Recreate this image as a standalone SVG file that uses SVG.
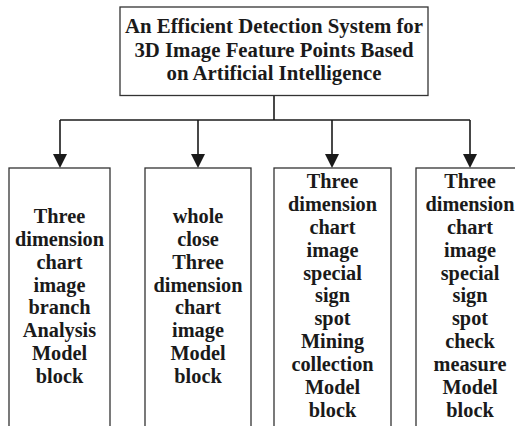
<svg xmlns="http://www.w3.org/2000/svg" width="515" height="426" viewBox="0 0 515 426">
<style>
.box{fill:#fff;stroke:#333;stroke-width:1.3}
.t{font-family:"Liberation Serif","Times New Roman",serif;font-weight:bold;font-size:20.3px;fill:#1a1a1a;text-anchor:middle}
.h{font-size:20.8px}
.c{fill:none;stroke:#1a1a1a;stroke-width:1.6}
.a{fill:#1a1a1a}
</style>
<rect width="515" height="426" fill="#fff"/>
<g id="connectors">
<path class="c" d="M274,96 V120"/>
<path class="c" d="M60,120 H470"/>
<path d="M60,120 V154" class="c"/>
<path d="M198,120 V154" class="c"/>
<path d="M332,120 V154" class="c"/>
<path d="M470,120 V154" class="c"/>
<path class="a" d="M53,154 L67,154 L60,168 Z"/>
<path class="a" d="M191,154 L205,154 L198,168 Z"/>
<path class="a" d="M325,154 L339,154 L332,168 Z"/>
<path class="a" d="M463,154 L477,154 L470,168 Z"/>
</g>
<g id="root">
<rect class="box" x="120" y="7" width="308" height="88.5"/>
<text class="t h" x="274" y="33">An Efficient Detection System for</text>
<text class="t h" x="274" y="57">3D Image Feature Points Based</text>
<text class="t h" x="274" y="80">on Artificial Intelligence</text>
</g>
<g id="node1">
<rect class="box" x="9" y="168" width="101" height="280"/>
<text class="t" x="59.5" y="223">Three</text>
<text class="t" x="59.5" y="246">dimension</text>
<text class="t" x="59.5" y="269">chart</text>
<text class="t" x="59.5" y="292">image</text>
<text class="t" x="59.5" y="314">branch</text>
<text class="t" x="59.5" y="337">Analysis</text>
<text class="t" x="59.5" y="360">Model</text>
<text class="t" x="59.5" y="383">block</text>
</g>
<g id="node2">
<rect class="box" x="145" y="168" width="106" height="280"/>
<text class="t" x="198" y="223">whole</text>
<text class="t" x="198" y="246">close</text>
<text class="t" x="198" y="269">Three</text>
<text class="t" x="198" y="292">dimension</text>
<text class="t" x="198" y="314">chart</text>
<text class="t" x="198" y="337">image</text>
<text class="t" x="198" y="360">Model</text>
<text class="t" x="198" y="383">block</text>
</g>
<g id="node3">
<rect class="box" x="274" y="168" width="117" height="280"/>
<text class="t" x="332.5" y="188">Three</text>
<text class="t" x="332.5" y="211">dimension</text>
<text class="t" x="332.5" y="234">chart</text>
<text class="t" x="332.5" y="257">image</text>
<text class="t" x="332.5" y="280">special</text>
<text class="t" x="332.5" y="302">sign</text>
<text class="t" x="332.5" y="325">spot</text>
<text class="t" x="332.5" y="348">Mining</text>
<text class="t" x="332.5" y="371">collection</text>
<text class="t" x="332.5" y="394">Model</text>
<text class="t" x="332.5" y="417">block</text>
</g>
<g id="node4">
<rect class="box" x="416" y="168" width="120" height="280"/>
<text class="t" x="470" y="188">Three</text>
<text class="t" x="470" y="211">dimension</text>
<text class="t" x="470" y="234">chart</text>
<text class="t" x="470" y="257">image</text>
<text class="t" x="470" y="280">special</text>
<text class="t" x="470" y="302">sign</text>
<text class="t" x="470" y="325">spot</text>
<text class="t" x="470" y="348">check</text>
<text class="t" x="470" y="371">measure</text>
<text class="t" x="470" y="394">Model</text>
<text class="t" x="470" y="417">block</text>
</g>
</svg>
